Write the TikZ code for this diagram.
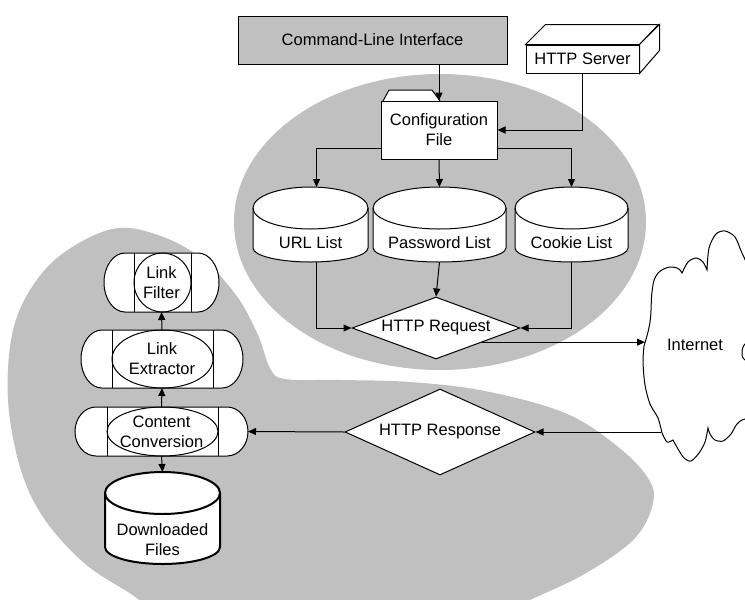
\documentclass[tikz,border=0pt]{standalone}
\usepackage{fontspec}
\setmainfont{Liberation Sans}
\usetikzlibrary{arrows.meta,shapes.geometric,calc}
\definecolor{zone}{HTML}{C0C0C0}

% drum (database) outline: #1 style, #2 left x, #3 right x,
% #4 top-ellipse centre y, #5 its y radius, #6 bottom centre y, #7 its y radius
\newcommand\drumshape[7]{%
  \filldraw[fill=white,#1] (#2,#4) -- (#2,#6)
    arc[start angle=180,end angle=0,x radius={(#3-#2)/2},y radius=#7]
    -- (#3,#4)
    arc[start angle=0,end angle=-180,x radius={(#3-#2)/2},y radius=#5] -- cycle;
  \draw[#1] (#2,#4) arc[start angle=180,end angle=0,x radius={(#3-#2)/2},y radius=#5];}

% rounded process box with two bars and an inner ellipse:
% #1 left x, #2 right x, #3 top y, #4 bottom y, #5 cap radius, #6 #7 bar positions
\newcommand\procshape[7]{%
  \filldraw[fill=white] (#1+#5,#3) -- (#2-#5,#3)
    arc[start angle=-90,end angle=90,x radius=#5,y radius={(#4-#3)/2}]
    -- (#1+#5,#4)
    arc[start angle=90,end angle=270,x radius=#5,y radius={(#4-#3)/2}] -- cycle;
  \draw (#6,#3) -- (#6,#4) (#7,#3) -- (#7,#4);
  \draw ({(#6+#7)/2},{(#3+#4)/2}) ellipse[x radius={(#7-#6)/2},y radius={(#4-#3)/2}];}

\begin{document}
\begin{tikzpicture}[x=1pt,y=-1pt,
  font=\fontsize{16.5}{20}\selectfont,
  line width=1pt,
  conn/.style={-{Triangle[length=8pt,width=7pt]}},
  shapebox/.style={draw=none,inner sep=0pt,outer sep=0pt,align=center},
  txt/.style={inner sep=0pt,align=center},
  decision/.style={diamond,draw,fill=white,inner sep=0pt}]
\useasboundingbox (0,0) rectangle (745,600);

% grey zones and the Internet cloud
\begin{scope}
  \clip (0,0) rectangle (745,600);
  \fill[zone] (440,222) ellipse[x radius=206,y radius=148];
  \fill[zone] plot[smooth cycle,tension=0.6] coordinates {
    (112,229) (155,234) (200,257) (236,295) (258,335) (270,368) (285,379)
    (340,380) (410,382) (485,391) (565,413) (617,446) (648,478) (653,503)
    (635,538) (588,572) (530,600) (440,640) (300,645) (180,622) (128,592)
    (83,562) (43,517) (20,467) (8,400) (12,335) (30,290) (62,254)};
  \filldraw[fill=white]
    plot[smooth,tension=0.7] coordinates {(644,346) (650,322) (652,292) (656,276) (666,268) (677,268) (682,273)}
    -- plot[smooth] coordinates {(682,273) (688,262) (696,258) (703,262) (707,270)}
    -- plot[smooth] coordinates {(707,270) (709,248) (716,234) (725,231) (735,237) (742,253) (750,268) (765,280)}
    -- (765,336)
    -- plot[smooth] coordinates {(765,336) (746,343) (742,352) (745,360) (765,368)}
    -- (765,418)
    -- plot[smooth] coordinates {(765,418) (745,419) (737,424) (731,434) (723,441) (715,440) (710,434) (708,428)}
    -- plot[smooth] coordinates {(708,428) (705,442) (699,453) (691,461) (684,458) (678,449) (673,440)}
    -- plot[smooth] coordinates {(673,440) (667,442) (662,433)}
    -- plot[smooth] coordinates {(662,433) (658,418) (650,404) (645,385) (643,362) (644,346)}
    -- cycle;
\end{scope}
\coordinate (inetin) at (645,345);
\coordinate (inetout) at (661,432);
\node[txt] (inet) at (695,345) {Internet};

% command line and server
\node[draw,fill=zone,minimum width=269pt,minimum height=48pt,inner sep=0pt] (cli) at (372.5,40) {Command-Line Interface};
\node[draw,fill=white,minimum width=113pt,minimum height=28pt,inner sep=0pt] (srv) at (582.5,59) {HTTP Server};
\draw[fill=white] (srv.north west) -- ++(20,-20) -- ++(113,0) -- (srv.north east) -- cycle;
\draw[fill=white] (srv.north east) -- ++(20,-20) -- ++(0,26) -- (srv.south east) -- cycle;

% configuration file with its tab
\draw[fill=white] (383,101) -- (389,90) -- (432,90) -- (440,101);
\node[draw,fill=white,minimum width=116pt,minimum height=58pt,inner sep=0pt,align=center] (cfg) at (439,130) {Configuration\\File};

% list stores
\drumshape{}{253}{368}{208}{21}{248}{14}
\drumshape{}{373}{506}{208}{21}{248}{14}
\drumshape{}{515}{628}{208}{21}{248}{14}
\node[shapebox,minimum width=115pt,minimum height=75pt] (url) at (310.5,224.5) {};
\node[shapebox,minimum width=133pt,minimum height=75pt] (pwd) at (439.5,224.5) {};
\node[shapebox,minimum width=113pt,minimum height=75pt] (cookie) at (571.5,224.5) {};
\node[txt] (urltxt) at (310.5,243) {URL List};
\node[txt] (pwdtxt) at (439.5,243) {Password List};
\node[txt] (cookietxt) at (571.5,243) {Cookie List};

% decisions
\node[decision,minimum width=168pt,minimum height=62pt,shape aspect=2.7] (req) at (436,328) {HTTP Request};
\node[decision,minimum width=190pt,minimum height=86pt,shape aspect=2.2] (resp) at (440,432) {HTTP Response};

% processing chain
\procshape{104}{219}{253}{312}{21}{134}{191}
\procshape{81}{243}{330}{388}{21}{112}{213}
\procshape{75}{248}{407}{456}{21}{107}{218}
\node[shapebox,minimum width=115pt,minimum height=59pt] (filt) at (161.5,282.5) {Link\\Filter};
\node[shapebox,minimum width=162pt,minimum height=58pt] (extr) at (162,359) {Link\\Extractor};
\node[shapebox,minimum width=173pt,minimum height=49pt] (conv) at (161.5,431.5) {Content\\Conversion};

% downloaded files store
\drumshape{line width=2pt}{105}{220}{493}{21}{547}{17}
\node[shapebox,minimum width=115pt,minimum height=92pt] (dl) at (162.5,518) {};
\node[txt] (dltxt) at (162.5,540) {Downloaded\\Files};

% connectors
\draw[conn] (cli.south -| cfg.north) -- (cfg.north);
\draw[conn] (srv.south) |- (cfg.east);
\draw[conn] ([yshift=-18pt]cfg.west) -| ([xshift=6pt]url.north);
\draw[conn] (cfg.south) -- (pwd.north);
\draw[conn] ([yshift=-18pt]cfg.east) -| (cookie.north);
\draw[conn] ([xshift=6pt]url.south) |- (req.west);
\draw[conn] (pwd.south) -- (req.north);
\draw[conn] (cookie.south) |- (req.east);
\coordinate (reqout) at ($(req.east)!0.45!(req.south)$);
\draw[conn] (reqout) -- (reqout -| inetin);
\draw[conn] (inetout) -- (resp.east);
\draw[conn] (resp.west) -- (conv.east);
\draw[conn] (conv.north) -- (extr.south);
\draw[conn] (extr.north) -- (filt.south);
\draw[conn] (conv.south) -- (dl.north);
\end{tikzpicture}
\end{document}
